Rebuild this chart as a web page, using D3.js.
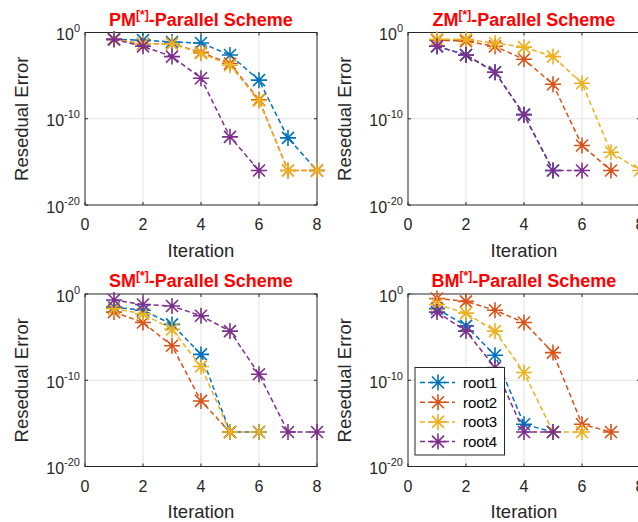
<!DOCTYPE html>
<html>
<head>
<meta charset="utf-8">
<script src="https://cdn.jsdelivr.net/npm/d3@7"></script>
<style>
  body { margin: 0; background: #fff; }
  svg { display: block; font-family: "Liberation Sans", Arial, sans-serif; }
</style>
</head>
<body>
<div id="chart"></div>
<script>
const COLORS = ["#0072BD", "#D95319", "#EDB120", "#7E2F8E"];
const rootNames = ["root1", "root2", "root3", "root4"];
const schemes = ["PM", "ZM", "SM", "BM"];
const xTicks = [0, 2, 4, 6, 8];
const yTicks = [1e-20, 1e-10, 1];
const yTickExp = ["-20", "-10", "0"];

// residual error per iteration (iteration = index + 1)
const pmRoot1 = [1.6e-1, 1.3e-1, 8e-2, 6e-2, 2.5e-3, 3e-6, 6e-13, 1e-16];
const pmRoot2 = [1.6e-1, 5e-2, 5e-2, 5e-3, 2.5e-4, 1.6e-8, 1e-16, 1e-16];
const pmRoot3 = [1.6e-1, 5e-2, 5e-2, 4e-3, 1.6e-4, 1.3e-8, 1e-16, 1e-16];
const pmRoot4 = [1.6e-1, 2.5e-2, 1.6e-3, 5e-6, 8e-13, 1e-16];

const zmRoot1 = [2.5e-2, 2.5e-3, 2.5e-5, 3e-10, 1e-16];
const zmRoot2 = [1.3e-1, 1e-1, 2.5e-2, 8e-4, 1e-6, 8e-14, 1e-16];
const zmRoot3 = [1.6e-1, 1.6e-1, 6e-2, 2e-2, 1.6e-3, 1.3e-6, 1.3e-14, 1e-16];
const zmRoot4 = [2.5e-2, 2.5e-3, 2.5e-5, 3e-10, 1e-16, 1e-16];

const smRoot1 = [3e-2, 1.3e-2, 3e-4, 1e-7, 1e-16, 1e-16];
const smRoot2 = [8e-3, 5e-4, 1e-6, 4e-13, 1e-16];
const smRoot3 = [2e-2, 5e-3, 8e-5, 4e-9, 1e-16, 1e-16];
const smRoot4 = [2e-1, 6e-2, 4e-2, 3e-3, 5e-5, 5e-10, 1e-16, 1e-16];

const bmRoot1 = [2e-2, 2e-4, 8e-8, 8e-16, 1e-16];
const bmRoot2 = [3e-1, 1.4e-1, 1.3e-2, 5e-4, 1.6e-7, 8e-16, 1e-16];
const bmRoot3 = [6e-2, 6e-3, 5e-5, 8e-10, 1e-16, 1e-16];
const bmRoot4 = [8e-3, 5e-5, 3e-9, 1e-16, 1e-16];

const seriesByScheme = {
  PM: [pmRoot1, pmRoot2, pmRoot3, pmRoot4],
  ZM: [zmRoot1, zmRoot2, zmRoot3, zmRoot4],
  SM: [smRoot1, smRoot2, smRoot3, smRoot4],
  BM: [bmRoot1, bmRoot2, bmRoot3, bmRoot4]
};

let width = 638, height = 522;
let panelW = 232, panelH = 172.5;
let origins = [[85, 32.5], [408, 32.5], [85, 294], [408, 294]];

let svg = d3.select("#chart").append("svg")
  .attr("width", width)
  .attr("height", height);

// asterisk marker like matlab '*'
function star(r, d) {
  return `M${-r},0H${r}M0,${-r}V${r}M${-d},${-d}L${d},${d}M${-d},${d}L${d},${-d}`;
}

schemes.forEach(function(name, i) {
  let x0 = origins[i][0], y0 = origins[i][1];
  let x = d3.scaleLinear().domain([0, 8]).range([x0, x0 + panelW]);
  let y = d3.scaleLog().domain([1e-20, 1]).range([y0 + panelH, y0]);
  let g = svg.append("g");

  // grid
  g.selectAll(".gx").data(xTicks.slice(1, -1)).enter().append("line")
    .attr("x1", d => x(d)).attr("x2", d => x(d))
    .attr("y1", y0).attr("y2", y0 + panelH)
    .attr("stroke", "#e3e3e3").attr("stroke-width", 1);
  g.append("line")
    .attr("x1", x0).attr("x2", x0 + panelW)
    .attr("y1", y(1e-10)).attr("y2", y(1e-10))
    .attr("stroke", "#e3e3e3").attr("stroke-width", 1);

  // box
  g.append("rect")
    .attr("x", x0).attr("y", y0)
    .attr("width", panelW).attr("height", panelH)
    .attr("fill", "none").attr("stroke", "#262626").attr("stroke-width", 1);

  // inward ticks
  xTicks.forEach(function(t) {
    g.append("line").attr("x1", x(t)).attr("x2", x(t))
      .attr("y1", y0 + panelH).attr("y2", y0 + panelH - 3).attr("stroke", "#262626");
    g.append("line").attr("x1", x(t)).attr("x2", x(t))
      .attr("y1", y0).attr("y2", y0 + 3).attr("stroke", "#262626");
    g.append("text")
      .attr("x", x(t)).attr("y", y0 + panelH + 25)
      .attr("text-anchor", "middle")
      .attr("font-size", 16).attr("fill", "#262626")
      .text(t);
  });
  yTicks.forEach(function(t, k) {
    g.append("line").attr("x1", x0).attr("x2", x0 + 3)
      .attr("y1", y(t)).attr("y2", y(t)).attr("stroke", "#262626");
    g.append("line").attr("x1", x0 + panelW).attr("x2", x0 + panelW - 3)
      .attr("y1", y(t)).attr("y2", y(t)).attr("stroke", "#262626");
    let lab = g.append("text")
      .attr("x", x0 - 5).attr("y", y(t) + 7.5)
      .attr("text-anchor", "end")
      .attr("font-size", 16).attr("fill", "#262626");
    lab.append("tspan").text("10");
    lab.append("tspan").attr("font-size", 11).attr("dy", -8).text(yTickExp[k]);
  });

  // axis labels
  g.append("text")
    .attr("x", x0 + panelW / 2).attr("y", y0 + panelH + 51.5)
    .attr("text-anchor", "middle")
    .attr("font-size", 18.5).attr("fill", "#262626")
    .text("Iteration");
  g.append("text")
    .attr("transform", `translate(${x0 - 57.5},${y0 + panelH / 2}) rotate(-90)`)
    .attr("text-anchor", "middle")
    .attr("font-size", 18.5).attr("fill", "#262626")
    .text("Resedual Error");

  // title
  let title = g.append("text")
    .attr("x", x0 + panelW / 2).attr("y", y0 - 7)
    .attr("text-anchor", "middle")
    .attr("font-size", 18).attr("font-weight", "bold").attr("fill", "#ff0000");
  title.append("tspan").text(name);
  title.append("tspan").attr("font-size", 12).attr("dy", -7).text("[*]");
  title.append("tspan").attr("dy", 7).text("-Parallel Scheme");

  // series
  let line = d3.line().x((d, j) => x(j + 1)).y(d => y(d));
  seriesByScheme[name].forEach(function(vals, s) {
    g.append("path")
      .datum(vals)
      .attr("d", line)
      .attr("fill", "none")
      .attr("stroke", COLORS[s])
      .attr("stroke-width", 1.5)
      .attr("stroke-dasharray", "5,3");
    g.selectAll(".m" + s).data(vals).enter().append("path")
      .attr("transform", (d, j) => `translate(${x(j + 1)},${y(d)})`)
      .attr("d", star(8, 6))
      .attr("fill", "none")
      .attr("stroke", COLORS[s])
      .attr("stroke-width", 1.6);
  });

  // legend only in the last panel
  if (name === "BM") {
    let lx = 415, ly = 367.5;
    let legend = g.append("g");
    legend.append("rect")
      .attr("x", lx).attr("y", ly)
      .attr("width", 89.5).attr("height", 87.5)
      .attr("fill", "#fff").attr("stroke", "#262626").attr("stroke-width", 1);
    rootNames.forEach(function(rn, s) {
      let cy = ly + 15 + s * 19.7;
      legend.append("line")
        .attr("x1", lx + 5).attr("x2", lx + 40)
        .attr("y1", cy).attr("y2", cy)
        .attr("stroke", COLORS[s]).attr("stroke-width", 1.5)
        .attr("stroke-dasharray", "5,3");
      legend.append("path")
        .attr("transform", `translate(${lx + 23},${cy})`)
        .attr("d", star(8, 6))
        .attr("fill", "none").attr("stroke", COLORS[s]).attr("stroke-width", 1.6);
      legend.append("text")
        .attr("x", lx + 48).attr("y", cy + 5.5)
        .attr("font-size", 15).attr("fill", "#000")
        .text(rn);
    });
  }
});
</script>
</body>
</html>
